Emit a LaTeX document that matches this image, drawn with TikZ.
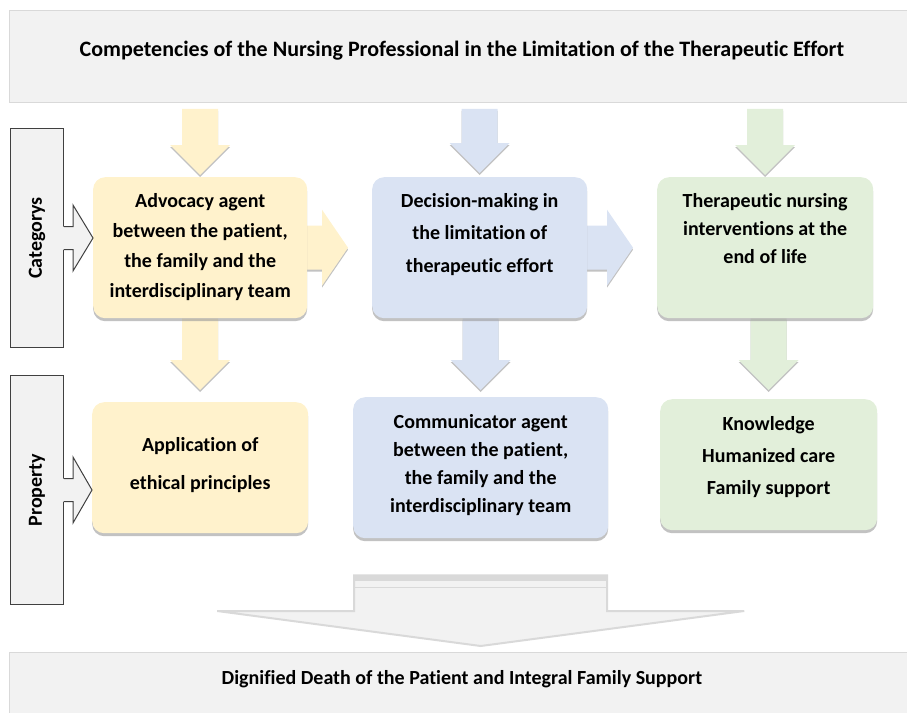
\documentclass[tikz,border=0pt]{standalone}
\usepackage{fontspec}
\setmainfont{Carlito}[Ligatures=NoCommon]
\usetikzlibrary{positioning,calc,shadows}
\pgfdeclarelayer{back}
\pgfsetlayers{back,main}
\definecolor{gold}{HTML}{FFF2CC}
\definecolor{sky}{HTML}{DAE3F3}
\definecolor{mint}{HTML}{E2EFDA}
\definecolor{paper}{HTML}{F2F2F2}
\definecolor{rim}{HTML}{D9D9D9}
% block arrow pointing down onto a node: colour, from, to, top gap, tip gap
\newcommand\downblock[5]{%
  \fill[#1, blockshade] let \p1=(#2.south -| #3.north), \p2=(#3.north) in
    (\x2-18pt,\y1-#4pt) -- (\x2+18pt,\y1-#4pt) -- (\x2+18pt,\y2+#5pt+30pt)
    -- (\x2+30pt,\y2+#5pt+30pt) -- (\x2,\y2+#5pt) -- (\x2-30pt,\y2+#5pt+30pt)
    -- (\x2-18pt,\y2+#5pt+30pt) -- cycle;}
% block arrow pointing right, from behind one card towards the next
\newcommand\rightblock[3]{%
  \fill[#1, blockshade] let \p1=(#2.center), \p2=(#3.west |- #2.center) in
    (\x1,\y1+22pt) -- (\x2-50pt,\y1+22pt) -- (\x2-50pt,\y1+38pt) -- (\x2-24pt,\y1)
    -- (\x2-50pt,\y1-38pt) -- (\x2-50pt,\y1-22pt) -- (\x1,\y1-22pt) -- cycle;}
% outlined arrow from a side label to its row
\newcommand\sideblock[2]{%
  \fill[paper] let \p1=(#1.east), \p2=(#2.west) in
    (\x1-1pt,\y1+11.5pt) -- (\x1+9pt,\y1+11.5pt) -- (\x1+9pt,\y1+33pt) -- (\x2,\y1)
    -- (\x1+9pt,\y1-33pt) -- (\x1+9pt,\y1-11.5pt) -- (\x1-1pt,\y1-11.5pt) -- cycle;
  \draw[black!75, line width=1pt, line join=miter] let \p1=(#1.east), \p2=(#2.west) in
    (\x1,\y1+11.5pt) -- (\x1+9pt,\y1+11.5pt) -- (\x1+9pt,\y1+33pt) -- (\x2,\y1)
    -- (\x1+9pt,\y1-33pt) -- (\x1+9pt,\y1-11.5pt) -- (\x1,\y1-11.5pt);}
\begin{document}
\begin{tikzpicture}[x=1pt, y=-1pt,
  banner/.style={draw=rim, fill=paper, line width=.8pt, anchor=north west, inner sep=0pt},
  side/.style={draw=black!75, fill=paper, line width=1pt, anchor=north west, inner sep=0pt},
  card/.style={fill=#1, rounded corners=12pt, anchor=north west, inner sep=0pt,
    drop shadow={shadow xshift=0pt, shadow yshift=-3pt, fill=black!40, opacity=.6}},
  words/.style={font=\bfseries\fontsize{20}{#1}\selectfont, align=center, inner sep=0pt},
  words/.default=30,
  blockshade/.style={drop shadow={shadow xshift=0pt, shadow yshift=-2pt, fill=black!40, opacity=.6}},
]
\useasboundingbox (0,0) rectangle (907,712);

% banners
\node[banner, minimum width=905, minimum height=92] (head) at (9,10) {};
\node[banner, minimum width=905, minimum height=70] (foot) at (9,652) {};
\node[words, font=\bfseries\fontsize{22}{26}\selectfont] (title) at ([yshift=6pt]head.center)
  {Competencies of the Nursing Professional in the Limitation of the Therapeutic Effort};

% side labels
\node[side, minimum width=53, minimum height=219] (cat) at (10,128) {};
\node[side, minimum width=53, minimum height=229] (prop) at (10,375) {};
\node[words, rotate=90] at (cat.center) {Categorys};
\node[words, rotate=90] at (prop.center) {Property};

% cards
\path (93,177) node[card=gold, minimum width=214, minimum height=141] (adv) {}
      (372,177) node[card=sky, minimum width=215, minimum height=141] (dec) {}
      (657,177) node[card=mint, minimum width=216, minimum height=141] (ther) {};
\path (92,402) node[card=gold, minimum width=216, minimum height=131] (ethic) {}
      (353,397) node[card=sky, minimum width=255, minimum height=141] (comm) {}
      (660,399) node[card=mint, minimum width=217, minimum height=131] (know) {};

% arrows behind the cards
\begin{pgfonlayer}{back}
\downblock{gold}{head}{adv}{6}{2}
\downblock{sky}{head}{dec}{6}{4}
\downblock{mint}{head}{ther}{6}{2}
\downblock{gold}{adv}{ethic}{0}{12}
\downblock{sky}{dec}{comm}{0}{7}
\downblock{mint}{ther}{know}{0}{9}
\rightblock{gold}{adv}{dec}
\rightblock{sky}{dec}{ther}
\end{pgfonlayer}
\sideblock{cat}{adv}
\sideblock{prop}{ethic}

% card texts
\node[words=30, anchor=north] (advtext) at ([yshift=-16pt]adv.north)
  {Advocacy agent\\between the patient,\\the family and the\\interdisciplinary team};
\node[words=32.5, anchor=north] (dectext) at ([yshift=-16pt]dec.north)
  {Decision-making in\\the limitation of\\therapeutic effort};
\node[words=28, anchor=north] (thertext) at ([yshift=-16pt]ther.north)
  {Therapeutic nursing\\interventions at the\\end of life};
\node[words=38, anchor=north] (ethictext) at ([yshift=-35pt]ethic.north)
  {Application of\\ethical principles};
\node[words=28, anchor=north] (commtext) at ([yshift=-17pt]comm.north)
  {Communicator agent\\between the patient,\\the family and the\\interdisciplinary team};
\node[words=32, anchor=north] (knowtext) at ([yshift=-17pt]know.north)
  {Knowledge\\Humanized care\\Family support};

% big arrow onto the footer
\path let \p1=(comm.south), \p2=(foot.north) in
  coordinate (shaftL) at (\x1-126.5pt,\y1-37pt)
  coordinate (shaftR) at (\x1+126.5pt,\y1-37pt)
  coordinate (tip) at (\x1,\y2+6pt);
\draw[rim, fill=paper, line width=2pt, line join=miter]
  (shaftL) -- (shaftR) -- (shaftR |- 0,611) -- ([xshift=137pt]shaftR |- 0,611)
  -- (tip) -- ([xshift=-137pt]shaftL |- 0,611) -- (shaftL |- 0,611) -- cycle;
\fill[rim] (shaftL) rectangle ([yshift=-6pt]shaftR);
\draw[rim, line width=1.5pt] ([yshift=-12pt]shaftL) -- ([yshift=-12pt]shaftR);
\node[words, anchor=north] (foottext) at ([yshift=-18pt]foot.north)
  {Dignified Death of the Patient and Integral Family Support};
\end{tikzpicture}
\end{document}
